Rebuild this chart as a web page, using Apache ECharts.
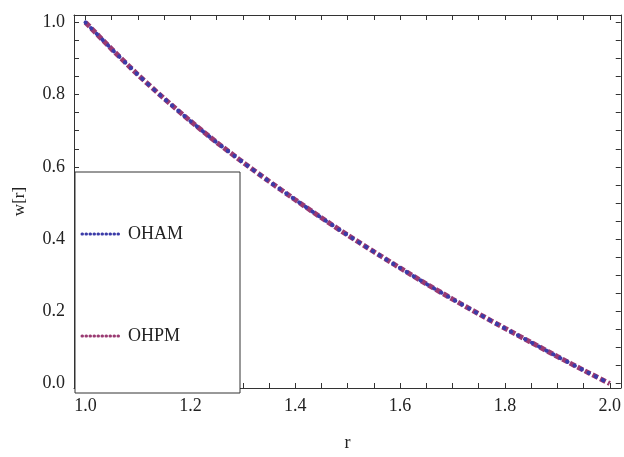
<!DOCTYPE html>
<html>
<head>
<meta charset="utf-8">
<script src="https://cdn.jsdelivr.net/npm/echarts@6/dist/echarts.min.js"></script>
<style>
    html, body { margin: 0; padding: 0; background: #fff; }
    #chart { width: 624px; height: 457px; }
</style>
</head>
<body>
<div id="chart"></div>
<script>
// values
const rValues = [1.0, 1.05, 1.1, 1.15, 1.2, 1.25, 1.3, 1.35, 1.4, 1.45, 1.5,
    1.55, 1.6, 1.65, 1.7, 1.75, 1.8, 1.85, 1.9, 1.95, 2.0];
const ohamValues = [1.0, 0.926, 0.855, 0.789, 0.727, 0.668, 0.613, 0.560, 0.509, 0.459, 0.411,
    0.365, 0.320, 0.276, 0.234, 0.193, 0.153, 0.114, 0.075, 0.037, 0.0];
const ohpmValues = [1.0, 0.926, 0.855, 0.789, 0.727, 0.668, 0.613, 0.560, 0.509, 0.459, 0.411,
    0.365, 0.320, 0.276, 0.234, 0.193, 0.153, 0.114, 0.075, 0.037, 0.0];
const xTickLabels = [1.0, 1.2, 1.4, 1.6, 1.8, 2.0];
const yTickLabels = [0.0, 0.2, 0.4, 0.6, 0.8, 1.0];
const xMinorTicks = [];
for (let i = 0; i <= 20; i++) xMinorTicks.push(1 + i * 0.05);
const yMinorTicks = [];
for (let i = 0; i <= 20; i++) yMinorTicks.push(i * 0.05);

const font = '"Times New Roman", "Liberation Serif", Tinos, serif';
const blue = '#3b3ba8';
const purple = '#9a3a72';

const myEcharts = echarts.init(document.getElementById('chart'));

function xAxisCfg(pos, labels) {
    return {
        type: 'value',
        position: pos,
        min: 0.978,
        max: 2.021,
        name: labels ? 'r' : '',
        nameLocation: 'middle',
        nameGap: 46,
        nameTextStyle: { color: '#222', fontFamily: font, fontSize: 18 },
        axisLine: { show: true, onZero: false, lineStyle: { color: '#333', width: 1 } },
        axisTick: { show: true, inside: true, length: 5, customValues: xMinorTicks, lineStyle: { color: '#333' } },
        axisLabel: {
            show: labels,
            customValues: xTickLabels,
            margin: 9,
            color: '#222',
            fontFamily: font,
            fontSize: 18,
            formatter: v => Number(v).toFixed(1)
        },
        splitLine: { show: false }
    };
}

function yAxisCfg(pos, labels) {
    return {
        type: 'value',
        position: pos,
        min: -0.0123,
        max: 1.0205,
        name: labels ? 'w[r]' : '',
        nameLocation: 'middle',
        nameGap: 46,
        nameRotate: 90,
        nameTextStyle: { color: '#222', fontFamily: font, fontSize: 17 },
        axisLine: { show: true, onZero: false, lineStyle: { color: '#333', width: 1 } },
        axisTick: { show: true, inside: true, length: 5, customValues: yMinorTicks, lineStyle: { color: '#333' } },
        axisLabel: {
            show: labels,
            customValues: yTickLabels,
            margin: 9,
            color: '#222',
            fontFamily: font,
            fontSize: 18,
            formatter: v => Number(v).toFixed(1)
        },
        splitLine: { show: false }
    };
}

const option = {
    animation: false,
    grid: { left: 74, right: 1, top: 15, bottom: 64 },
    xAxis: [xAxisCfg('bottom', true), xAxisCfg('top', false)],
    yAxis: [yAxisCfg('left', true), yAxisCfg('right', false)],
    series: [{
        name: 'OHPM',
        type: 'line',
        data: rValues.map((r, i) => [r, ohpmValues[i]]),
        showSymbol: false,
        smooth: 0.2,
        lineStyle: { color: purple, width: 5, type: [6, 2.5], cap: 'butt' },
        z: 2
    }, {
        name: 'OHAM',
        type: 'line',
        data: rValues.map((r, i) => [r, ohamValues[i]]),
        showSymbol: false,
        smooth: 0.2,
        lineStyle: { color: blue, width: 4, type: [0.5, 7.5], cap: 'round' },
        z: 3
    }],
    graphic: [{
        type: 'rect',
        shape: { x: 75, y: 172, width: 165, height: 221 },
        style: { fill: '#fff', stroke: '#333', lineWidth: 1 },
        z: 10
    }, {
        type: 'line',
        shape: { x1: 82, y1: 234, x2: 119, y2: 234 },
        style: { stroke: blue, lineWidth: 3, lineDash: [0.5, 3.5], lineCap: 'round' },
        z: 11
    }, {
        type: 'text',
        x: 128, y: 234,
        style: { text: 'OHAM', fill: '#222', font: '18px "Times New Roman", "Liberation Serif", serif', textVerticalAlign: 'middle' },
        z: 11
    }, {
        type: 'line',
        shape: { x1: 82, y1: 336, x2: 119, y2: 336 },
        style: { stroke: purple, lineWidth: 3, lineDash: [0.5, 3.5], lineCap: 'round' },
        z: 11
    }, {
        type: 'text',
        x: 128, y: 336,
        style: { text: 'OHPM', fill: '#222', font: '18px "Times New Roman", "Liberation Serif", serif', textVerticalAlign: 'middle' },
        z: 11
    }]
};

myEcharts.setOption(option);
</script>
</body>
</html>
